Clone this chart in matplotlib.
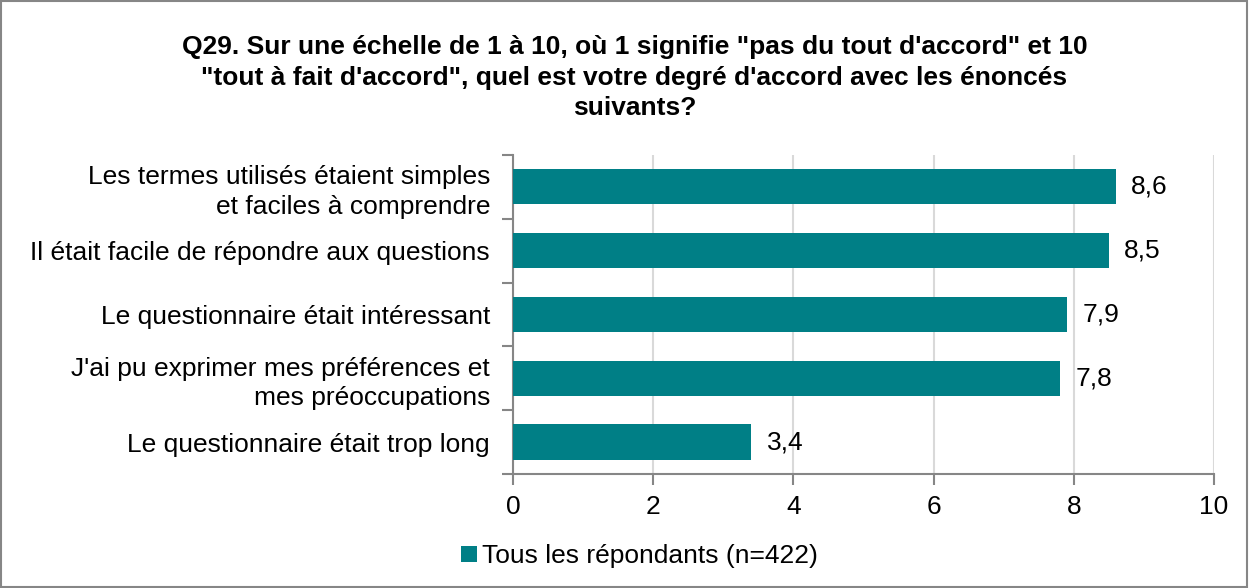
import numpy as np
import matplotlib.pyplot as plt
from matplotlib.patches import Rectangle

plt.rcParams['font.family'] = ['Liberation Sans', 'DejaVu Sans']

# données
categories = [
    "Les termes utilisés étaient simples\net faciles à comprendre",
    "Il était facile de répondre aux questions",
    "Le questionnaire était intéressant",
    "J'ai pu exprimer mes préférences et\nmes préoccupations",
    "Le questionnaire était trop long",
]
values = [8.6, 8.5, 7.9, 7.8, 3.4]
value_labels = ["8,6", "8,5", "7,9", "7,8", "3,4"]
series_name = "Tous les répondants (n=422)"
title = ("Q29. Sur une échelle de 1 à 10, où 1 signifie \"pas du tout d'accord\" et 10\n"
         "\"tout à fait d'accord\", quel est votre degré d'accord avec les énoncés\n"
         "suivants?")

bar_color = '#007F86'
axis_color = '#868686'
fs = 19

fig = plt.figure(figsize=(12.49, 5.88), dpi=100)
ax = fig.add_axes([0.4107, 0.194, 0.5613, 0.5424])

y = np.arange(len(categories))
bars = ax.barh(y, values, height=0.55, color=bar_color, label=series_name, zorder=3)

for yi, v, lab in zip(y, values, value_labels):
    ax.text(v + 0.22, yi, lab, va='center', ha='left', fontsize=fs, color='black')

ax.set_xlim(0, 10)
ax.set_ylim(len(categories) - 0.5, -0.5)
ax.set_xticks([0, 2, 4, 6, 8, 10])
ax.set_xticklabels(['0', '2', '4', '6', '8', '10'], fontsize=fs)
ax.set_yticks(y)
ax.set_yticklabels(categories, fontsize=fs, linespacing=1.3)
ax.set_yticks(np.arange(-0.5, len(categories), 1), minor=True)
ax.tick_params(axis='y', which='major', length=0, pad=16.5)
ax.tick_params(axis='y', which='minor', length=8, width=1.5, color=axis_color)
ax.tick_params(axis='x', length=8, width=1.5, color=axis_color, pad=7)

ax.grid(axis='x', color='#D9D9D9', linewidth=1.5, zorder=0)
for s in ['top', 'right']:
    ax.spines[s].set_visible(False)
for s in ['left', 'bottom']:
    ax.spines[s].set_color(axis_color)
    ax.spines[s].set_linewidth(1.5)

fig.text(0.508, 0.94, title, ha='center', va='top', fontsize=fs,
         fontweight='bold', linespacing=1.33)

fig.legend(handles=[bars], labels=[series_name], loc='center',
           bbox_to_anchor=(0.512, 0.054), frameon=False, fontsize=fs,
           handlelength=0.6, handleheight=0.6, handletextpad=0.2)

fig.patches.append(Rectangle((0.001, 0.001), 0.997, 0.997, transform=fig.transFigure,
                             fill=False, edgecolor=axis_color, linewidth=1.5))

fig.savefig('out.png', dpi=100)
